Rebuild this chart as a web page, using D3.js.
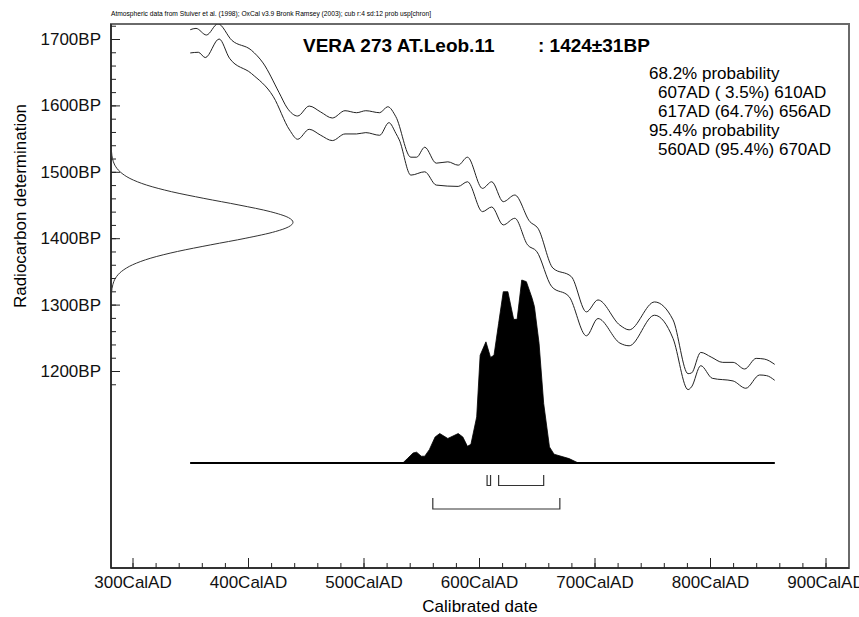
<!DOCTYPE html>
<html>
<head>
<meta charset="utf-8">
<script src="https://cdn.jsdelivr.net/npm/d3@7"></script>
<style>
  body { margin: 0; background: #fff; }
  svg { display: block; font-family: "Liberation Sans", Arial, sans-serif; }
  .axis path, .axis line { stroke: #222; }
  .axis text { font-size: 17px; fill: #111; font-family: "Liberation Sans", Arial, sans-serif; }
</style>
</head>
<body>
<svg id="chart" width="859" height="617"></svg>
<script>
// tick labels
var xTickValues = [300, 400, 500, 600, 700, 800, 900];
var yTickValues = [1200, 1300, 1400, 1500, 1600, 1700];

// measured radiocarbon date 1424 +/- 31 BP, as drawn on the y axis
var measBP =      [1318, 1330, 1340, 1350, 1360, 1370, 1380, 1390, 1400, 1410, 1417, 1424, 1431, 1440, 1450, 1460, 1470, 1480, 1490, 1500, 1510, 1520, 1530];
var measDensity = [0.003, 0.010, 0.025, 0.058, 0.119, 0.219, 0.365, 0.548, 0.741, 0.903, 0.975, 1.0, 0.975, 0.875, 0.703, 0.510, 0.333, 0.196, 0.104, 0.050, 0.021, 0.008, 0.003];

// calibration curve envelope (upper / lower)
var upperYear = [350, 355, 364, 374, 386, 403, 413, 427, 434, 443, 453, 463, 473, 484, 494, 502, 514, 521, 528, 541, 546, 553, 563, 573, 582, 590, 603, 611, 621, 631, 644, 651, 664, 680, 693, 703, 722, 730, 752, 768, 781, 784, 792, 801, 811, 820, 830, 840, 847, 856];
var upperBP =   [1714, 1716, 1706, 1723, 1698, 1683, 1664, 1619, 1596, 1584, 1599, 1590, 1581, 1592, 1589, 1592, 1589, 1598, 1583, 1522, 1522, 1537, 1513, 1515, 1510, 1522, 1475, 1485, 1455, 1465, 1425, 1415, 1355, 1342, 1289, 1307, 1269, 1262, 1304, 1277, 1196, 1197, 1228, 1221, 1213, 1213, 1203, 1219, 1218, 1210];
var lowerYear = [350, 357, 363, 375, 384, 403, 422, 436, 443, 453, 463, 473, 484, 494, 502, 514, 522, 528, 531, 541, 553, 563, 582, 590, 603, 611, 621, 631, 642, 650, 663, 678, 693, 703, 722, 730, 752, 768, 781, 784, 792, 802, 820, 831, 843, 849, 856];
var lowerBP =   [1679, 1680, 1672, 1700, 1671, 1648, 1613, 1563, 1549, 1564, 1555, 1547, 1557, 1557, 1559, 1555, 1574, 1558, 1548, 1495, 1500, 1480, 1478, 1485, 1440, 1447, 1420, 1430, 1390, 1380, 1327, 1312, 1253, 1279, 1242, 1238, 1284, 1249, 1172, 1176, 1208, 1189, 1185, 1174, 1194, 1193, 1186];

// calibrated probability distribution
var probYear =    [350, 534, 538, 543, 546, 550, 553, 557, 562, 566, 573, 582, 586, 590, 593, 598, 601, 606, 610, 613, 617, 621, 625, 630, 633, 637, 641, 646, 648, 652, 656, 661, 665, 678, 686, 856];
var probDensity = [0, 0, 0.024, 0.055, 0.059, 0.037, 0.037, 0.073, 0.142, 0.161, 0.134, 0.161, 0.142, 0.091, 0.102, 0.252, 0.589, 0.662, 0.577, 0.589, 0.763, 0.936, 0.936, 0.785, 0.785, 1.0, 0.991, 0.9, 0.854, 0.654, 0.325, 0.088, 0.048, 0.024, 0, 0];

// highest probability ranges
var range68 = [[607, 610], [617, 656]];
var range95 = [[560, 670]];

var probLines = ["68.2% probability", "607AD ( 3.5%) 610AD", "617AD (64.7%) 656AD", "95.4% probability", "560AD (95.4%) 670AD"];
var probIndent = [0, 1, 1, 0, 1];

var frame = {left: 111, right: 849, top: 24, bottom: 568};

var x = d3.scaleLinear().domain([300, 900]).range([132.5, 825.5]);
var y = d3.scaleLinear().domain([1200, 1700]).range([371, 39]);
var yProb = d3.scaleLinear().domain([0, 1]).range([463, 280]);
var wMeas = d3.scaleLinear().domain([0, 1]).range([frame.left, 293]);

var svg = d3.select("#chart");

svg.append("defs").append("clipPath").attr("id", "plotclip")
  .append("rect")
    .attr("x", frame.left).attr("y", frame.top)
    .attr("width", frame.right - frame.left)
    .attr("height", frame.bottom - frame.top);

// frame
svg.append("rect")
    .attr("x", frame.left).attr("y", frame.top)
    .attr("width", frame.right - frame.left)
    .attr("height", frame.bottom - frame.top)
    .attr("fill", "none")
    .attr("stroke", "#6a6a6a")
    .attr("stroke-width", 2);

svg.append("text")
    .attr("x", frame.left).attr("y", 16)
    .attr("textLength", 320)
    .attr("lengthAdjust", "spacingAndGlyphs")
    .style("font-size", "8px")
    .text("Atmospheric data from Stuiver et al. (1998); OxCal v3.9 Bronk Ramsey (2003); cub r:4 sd:12 prob usp[chron]");

// axes, ticks point into the plot
svg.append("g")
    .attr("class", "axis")
    .attr("transform", "translate(0," + frame.bottom + ")")
    .call(d3.axisBottom(x).tickValues(d3.range(300, 901, 20)).tickSize(-5).tickFormat(""))
    .call(g => g.select(".domain").remove());

svg.append("g")
    .attr("class", "axis")
    .attr("transform", "translate(0," + frame.bottom + ")")
    .call(d3.axisBottom(x).tickValues(xTickValues).tickSize(-10).tickPadding(8).tickFormat(d => d + "CalAD"))
    .call(g => g.select(".domain").attr("d", "M" + frame.left + ",0H" + frame.right).attr("stroke-width", 1.5));

svg.append("g")
    .attr("class", "axis")
    .attr("transform", "translate(" + frame.left + ",0)")
    .call(d3.axisLeft(y).tickValues(d3.range(1180, 1721, 20)).tickSize(-5).tickFormat(""))
    .call(g => g.select(".domain").remove());

svg.append("g")
    .attr("class", "axis")
    .attr("transform", "translate(" + frame.left + ",0)")
    .call(d3.axisLeft(y).tickValues(yTickValues).tickSize(-9).tickPadding(10).tickFormat(d => d + "BP"))
    .call(g => g.select(".domain").attr("d", "M0," + frame.top + "V" + frame.bottom).attr("stroke-width", 1.5));

svg.append("text")
    .attr("transform", "translate(26,206) rotate(-90)")
    .attr("text-anchor", "middle")
    .style("font-size", "17px")
    .text("Radiocarbon determination");

svg.append("text")
    .attr("x", 480).attr("y", 612)
    .attr("text-anchor", "middle")
    .style("font-size", "17px")
    .text("Calibrated date");

var plot = svg.append("g").attr("clip-path", "url(#plotclip)");

// measured date on the y axis
plot.append("path")
    .datum(measBP.map((d, i) => [d, measDensity[i]]))
    .attr("fill", "none")
    .attr("stroke", "#333")
    .attr("stroke-width", 1)
    .attr("d", d3.line().x(d => wMeas(d[1])).y(d => y(d[0])).curve(d3.curveMonotoneY));

// calibration curve
var curveLine = d3.line().x(d => x(d[0])).y(d => y(d[1])).curve(d3.curveMonotoneX);
[[upperYear, upperBP], [lowerYear, lowerBP]].forEach(function(s) {
  plot.append("path")
      .datum(s[0].map((d, i) => [d, s[1][i]]))
      .attr("fill", "none")
      .attr("stroke", "#222")
      .attr("stroke-width", 1)
      .attr("d", curveLine);
});

// probability distribution
plot.append("path")
    .datum(probYear.map((d, i) => [d, probDensity[i]]))
    .attr("fill", "#000")
    .attr("stroke", "#000")
    .attr("stroke-width", 0.8)
    .attr("d", d3.area().x(d => x(d[0])).y0(yProb(0)).y1(d => yProb(d[1])));

plot.append("line")
    .attr("x1", x(probYear[0])).attr("x2", x(probYear[probYear.length - 1]))
    .attr("y1", yProb(0)).attr("y2", yProb(0))
    .attr("stroke", "#000")
    .attr("stroke-width", 2);

// range brackets
var bracket = (r, top, bottom) => "M" + x(r[0]) + "," + top + "V" + bottom + "H" + x(r[1]) + "V" + top;
plot.selectAll(".r68").data(range68).enter().append("path")
    .attr("fill", "none").attr("stroke", "#333").attr("stroke-width", 1.2)
    .attr("d", d => bracket(d, 475, 485.5));
plot.selectAll(".r95").data(range95).enter().append("path")
    .attr("fill", "none").attr("stroke", "#333").attr("stroke-width", 1.2)
    .attr("d", d => bracket(d, 498, 509));

// title
svg.append("text")
    .attr("x", 303).attr("y", 52)
    .style("font-size", "19px").style("font-weight", "bold")
    .text("VERA 273 AT.Leob.11");
svg.append("text")
    .attr("x", 538).attr("y", 52)
    .style("font-size", "19px").style("font-weight", "bold")
    .text(": 1424\u00b131BP");

svg.selectAll(".prob").data(probLines).enter().append("text")
    .attr("x", (d, i) => probIndent[i] ? 658 : 649)
    .attr("y", (d, i) => 79 + i * 19)
    .style("font-size", "17px")
    .style("white-space", "pre")
    .text(d => d);
</script>
</body>
</html>
